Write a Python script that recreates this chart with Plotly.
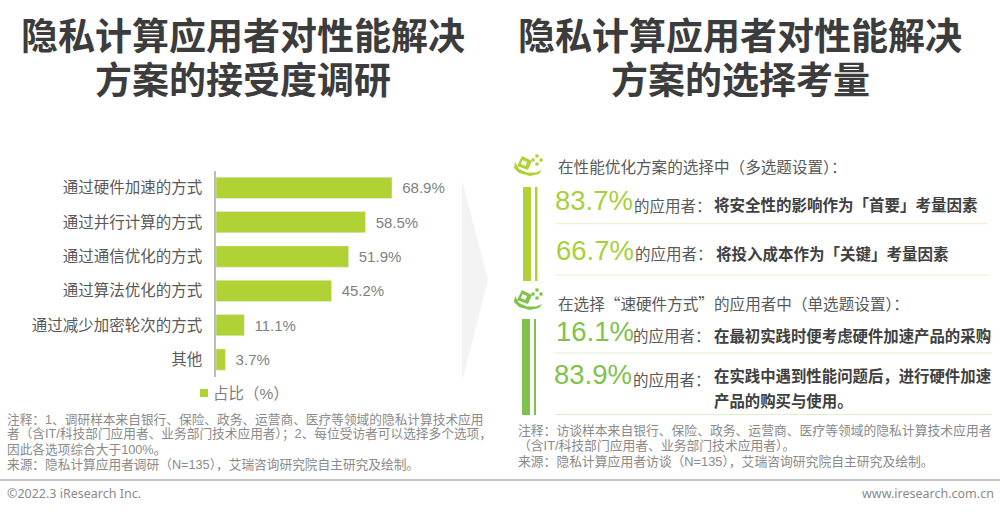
import plotly.graph_objects as go

W, H = 1000, 512
categories = ["通过硬件加速的方式", "通过并行计算的方式", "通过通信优化的方式",
              "通过算法优化的方式", "通过减少加密轮次的方式", "其他"]
values = [68.9, 58.5, 51.9, 45.2, 11.1, 3.7]
series_name = "占比（%）"
upper_pcts = [83.7, 66.7]
lower_pcts = [16.1, 83.9]

CJK = "Liberation Sans, Noto Sans CJK SC, sans-serif"
OPEN = "Noto Sans, Noto Sans CJK SC, sans-serif"
SC = "Noto Sans CJK SC, sans-serif"
LIME = "#b0d235"
GREEN = "#80c24c"


def X(p):
    return p / W


def Y(p):
    return 1 - p / H


annotations = []


def text(x, y, s, size=15.5, color="#595959", anchor="left", family=CJK):
    pad = {"left": -2, "right": 2, "center": 0}[anchor]
    annotations.append(dict(x=X(x + pad), y=Y(y), xref="paper", yref="paper", text=s, showarrow=False,
                            xanchor=anchor, yanchor="middle", align=anchor,
                            font=dict(family=family, size=size, color=color)))


shapes = []


def rect(x0, y0, x1, y1, color):
    shapes.append(dict(type="rect", xref="paper", yref="paper", x0=X(x0), x1=X(x1), y0=Y(y0), y1=Y(y1),
                       fillcolor=color, line=dict(width=0), layer="below"))


def line(x0, y0, x1, y1, color, width=1):
    shapes.append(dict(type="line", xref="paper", yref="paper", x0=X(x0), x1=X(x1), y0=Y(y0), y1=Y(y1),
                       line=dict(color=color, width=width), layer="below"))


def poly(points, fill):
    d = "M" + " L".join(f"{X(a):.5f},{Y(b):.5f}" for a, b in points) + " Z"
    shapes.append(dict(type="path", xref="paper", yref="paper", path=d,
                       fillcolor=fill, line=dict(width=0), layer="below"))


def icon(dy, color):
    poly([(522, 156 + dy), (532, 161 + dy), (528, 170 + dy), (517, 166 + dy)], color)
    poly([(522.5, 160 + dy), (527, 162 + dy), (525.5, 166 + dy), (521, 164 + dy)], "#ffffff")
    for cx, cy in [(537, 156), (541, 160), (537, 164), (533, 160)]:
        poly([(cx - 1.6, cy + dy - 1.6), (cx + 1.6, cy + dy - 1.6), (cx + 1.6, cy + dy + 1.6), (cx - 1.6, cy + dy + 1.6)], color)
    poly([(515, 162 + dy), (514, 168 + dy), (519, 173 + dy), (530, 176 + dy), (539, 174 + dy),
          (542, 170 + dy), (536, 172.5 + dy), (527, 172.5 + dy), (519, 169 + dy)], color)


# titles
T = "#3c3c3c"
text(243, 37, "<b>隐私计算应用者对性能解决</b>", 37, T, "center")
text(243, 81, "<b>方案的接受度调研</b>", 37, T, "center")
text(740, 37, "<b>隐私计算应用者对性能解决</b>", 37, T, "center")
text(740, 81, "<b>方案的选择考量</b>", 37, T, "center")

# chevron
poly([(462, 180), (488, 280), (462, 382)], "#f3f3f3")

# upper right panel
B = "#404040"
icon(0, LIME)
text(558, 167, "在性能优化方案的选择中（多选题设置）：", 15.6)
rect(523, 187, 531, 281, LIME)
rect(535, 187, 537.5, 281, LIME)
text(555, 200, f"{upper_pcts[0]}%", 27.5, "#a9d03c")
text(634, 206, "的应用者：")
text(714, 205, "<b>将安全性的影响作为「首要」考量因素</b>", 15.5, B)
line(556, 223.7, 987, 223.7, "#e6f0c6")
text(556, 250, f"{upper_pcts[1]}%", 27.5, "#a9d03c")
text(635, 254, "的应用者：")
text(716, 254, "<b>将投入成本作为「关键」考量因素</b>", 15.5, B)
line(556, 275, 989, 275, "#e6f0c6")

# lower right panel
icon(134, GREEN)
text(558, 303, "在选择“速硬件方式”的应用者中（单选题设置）：", 15.6, family=SC)
rect(522, 319, 530, 415, GREEN)
rect(534, 319, 536, 415, GREEN)
text(556, 331, f"{lower_pcts[0]}%", 27.5, GREEN)
text(633, 336, "的应用者：")
text(714, 336, "<b>在最初实践时便考虑硬件加速产品的采购</b>", 15.4, B)
line(555, 353, 992, 353, "#dcefcf")
text(554, 374, f"{lower_pcts[1]}%", 27.5, GREEN)
text(633, 380, "的应用者：")
text(714, 376, "<b>在实践中遇到性能问题后，进行硬件加速</b>", 15.4, B)
text(714, 401, "<b>产品的购买与使用。</b>", 15.4, B)
line(555, 414.5, 992, 414.5, "#dcefcf")

# notes
N = "#8a8a8a"
text(7, 419, "注释：1、调研样本来自银行、保险、政务、运营商、医疗等领域的隐私计算技术应用", 12.7, N)
text(7, 434, "者（含IT/科技部门应用者、业务部门技术应用者）；2、每位受访者可以选择多个选项，", 12.7, N)
text(7, 449, "因此各选项综合大于100%。", 12.7, N)
text(7, 464, "来源：隐私计算应用者调研（N=135），艾瑞咨询研究院自主研究及绘制。", 12.7, N)
text(518, 430, "注释：访谈样本来自银行、保险、政务、运营商、医疗等领域的隐私计算技术应用者", 12.8, N)
text(518, 445, "（含IT/科技部门应用者、业务部门技术应用者）。", 12.8, N)
text(518, 461, "来源：隐私计算应用者访谈（N=135），艾瑞咨询研究院自主研究及绘制。", 12.8, N)

# series key
rect(200, 389, 208, 397, LIME)
text(213, 393, series_name, 15.5, "#7f7f7f")

# footer
line(0, 480, W, 480, "#c4c4c4", 2)
text(7, 493, "©2022.3 iResearch Inc.", 12.5, "#8a8a8a", family=OPEN)
text(994, 493, "www.iresearch.com.cn", 12.5, "#8a8a8a", "right", OPEN)

fig = go.Figure(go.Bar(
    y=categories, x=values, orientation="h", name=series_name,
    marker=dict(color=LIME), width=0.62,
    text=[f"\u00a0\u2009{v}%" for v in values], textposition="outside", cliponaxis=False,
    textfont=dict(family=CJK, size=15, color="#7f7f7f"),
))
fig.update_layout(
    width=W, height=H, margin=dict(l=0, r=0, t=0, b=0),
    paper_bgcolor="#ffffff", plot_bgcolor="rgba(0,0,0,0)",
    font=dict(family=CJK),
    xaxis=dict(domain=[X(216), X(466)], range=[0, 250 / 2.555], visible=False),
    yaxis=dict(domain=[Y(376.7), Y(170.7)], autorange="reversed", showline=True, linecolor="#bdbdbd",
               linewidth=1.5, ticks="", ticklabelstandoff=9, showgrid=False,
               tickfont=dict(family=CJK, size=15.5, color="#595959")),
    showlegend=False,
    annotations=annotations, shapes=shapes,
)
fig.write_html("out.html", config={"displayModeBar": False},
               post_script="document.body.style.margin='0';document.body.style.overflow='hidden';")
